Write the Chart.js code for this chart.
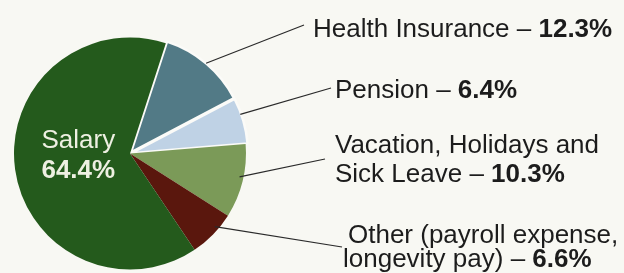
<!DOCTYPE html>
<html>
<head>
<meta charset="utf-8">
<script src="https://cdn.jsdelivr.net/npm/chart.js@4"></script>
<style>
  html, body { margin: 0; padding: 0; background: #f8f8f3; }
  #wrap { width: 624px; height: 273px; }
</style>
</head>
<body>
<div id="wrap"><canvas id="chart" width="624" height="273"></canvas></div>
<script>
// Данные
const categories = ["Health Insurance", "Pension", "Vacation, Holidays and Sick Leave", "Other (payroll expense, longevity pay)", "Salary"];
const shares = [12.3, 6.4, 10.3, 6.6, 64.4];
const shareLabels = ["12.3%", "6.4%", "10.3%", "6.6%", "64.4%"];

// Оформление
const colors = ["#527a86", "#bfd2e5", "#7b9a58", "#5a170d", "#245a1c"];
const offsets = [6, 5, 0, 0, 0];
const borders = [2.5, 2.5, 0, 0, 0];
const FONT = '"Liberation Sans", Arial, sans-serif';

// Подписи справа: строки, позиции текста и конец выноски
const callouts = [
  { lines: [["Health Insurance – ", "12.3%"]], x: [313], y: [37], end: [304, 25], frac: 0.5 },
  { lines: [["Pension – ", "6.4%"]], x: [335], y: [98], end: [331, 88], frac: 0.35 },
  { lines: [["Vacation, Holidays and", ""], ["Sick Leave – ", "10.3%"]], x: [335, 335], y: [153, 182], end: [325, 159], frac: 0.45 },
  { lines: [["Other (payroll expense,", ""], ["longevity pay) – ", "6.6%"]], x: [348, 343], y: [243, 267], end: [342, 247], frac: 0.35 },
];

const calloutPlugin = {
  id: "callouts",
  beforeDraw(chart) {
    const ctx = chart.ctx;
    ctx.save();
    ctx.fillStyle = "#f8f8f3";
    ctx.fillRect(0, 0, chart.width, chart.height);
    ctx.restore();
  },
  afterDraw(chart) {
    const ctx = chart.ctx;
    const arcs = chart.getDatasetMeta(0).data;
    ctx.save();
    callouts.forEach((c, i) => {
      const arc = arcs[i];
      const p = arc.getProps(["x", "y", "startAngle", "endAngle", "outerRadius"], true);
      const mid = (p.startAngle + p.endAngle) / 2;
      const a = p.startAngle + (p.endAngle - p.startAngle) * c.frac;
      const ox = Math.cos(mid) * offsets[i];
      const oy = Math.sin(mid) * offsets[i];
      const sx = p.x + ox + Math.cos(a) * (p.outerRadius - 4);
      const sy = p.y + oy + Math.sin(a) * (p.outerRadius - 4);
      ctx.strokeStyle = "#2a2a2a";
      ctx.lineWidth = 1.2;
      ctx.beginPath();
      ctx.moveTo(sx, sy);
      ctx.lineTo(c.end[0], c.end[1]);
      ctx.stroke();

      ctx.fillStyle = "#1c1c1c";
      ctx.textBaseline = "alphabetic";
      ctx.textAlign = "left";
      c.lines.forEach((ln, k) => {
        ctx.font = "26px " + FONT;
        ctx.fillText(ln[0], c.x[k], c.y[k]);
        const w = ctx.measureText(ln[0]).width;
        if (ln[1]) {
          ctx.font = "bold 26px " + FONT;
          ctx.fillText(ln[1], c.x[k] + w, c.y[k]);
        }
      });
    });

    // Подпись внутри большого сектора
    const s = arcs[4].getProps(["x", "y", "startAngle", "endAngle", "outerRadius"], true);
    const m = (s.startAngle + s.endAngle) / 2;
    const px = s.x + Math.cos(m) * s.outerRadius * 0.45;
    const py = s.y + Math.sin(m) * s.outerRadius * 0.45;
    ctx.fillStyle = "#eef0e2";
    ctx.textAlign = "center";
    ctx.font = "26px " + FONT;
    ctx.fillText(categories[4], px, py - 13);
    ctx.font = "bold 26px " + FONT;
    ctx.fillText(shareLabels[4], px, py + 17);
    ctx.restore();
  },
};

const ctx = document.getElementById("chart").getContext("2d");
new Chart(ctx, {
  type: "pie",
  data: {
    labels: categories,
    datasets: [{
      data: shares,
      backgroundColor: colors,
      borderColor: "#fbfbf8",
      borderWidth: borders,
      offset: offsets,
    }],
  },
  options: {
    responsive: false,
    animation: false,
    rotation: 18,
    radius: 116,
    events: [],
    layout: { padding: { left: 0, right: 364, top: 34, bottom: 0 } },
    plugins: {
      legend: { display: false },
      tooltip: { enabled: false },
    },
  },
  plugins: [calloutPlugin],
});
</script>
</body>
</html>
